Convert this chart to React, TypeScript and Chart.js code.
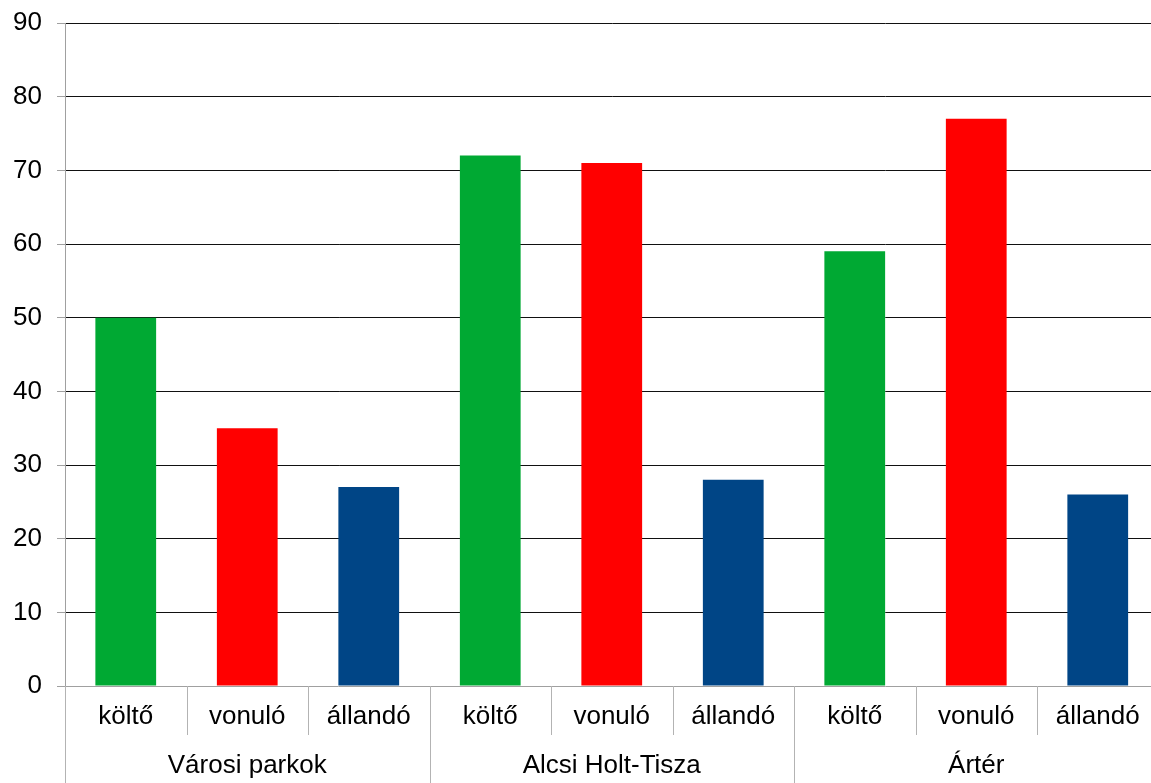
import React, { useEffect, useRef } from "react";
import { Chart, registerables } from "chart.js";

Chart.register(...registerables);

const categories = ["költő", "vonuló", "állandó", "költő", "vonuló", "állandó", "költő", "vonuló", "állandó"];
const groups = ["Városi parkok", "Alcsi Holt-Tisza", "Ártér"];
const values = [50, 35, 27, 72, 71, 28, 59, 77, 26];
const barColors = ["#00a933", "#ff0000", "#004586", "#00a933", "#ff0000", "#004586", "#00a933", "#ff0000", "#004586"];
const yMin = 0;
const yMax = 90;
const yStep = 10;

const FONT = "'Liberation Sans', Arial, sans-serif";

const labelsPlugin = {
  id: "multiLevelLabels",
  afterDraw(chart: any) {
    const ctx = chart.ctx;
    const area = chart.chartArea;
    const x = chart.scales.x;
    const n = categories.length;
    const w = (x.right - x.left) / n;
    const bottom = area.bottom;
    const H = chart.height;
    ctx.save();
    ctx.strokeStyle = "#b3b3b3";
    ctx.lineWidth = 1;
    for (let i = 0; i <= n; i++) {
      const px = Math.round(x.left + i * w) + 0.5;
      const full = i % 3 === 0;
      ctx.beginPath();
      ctx.moveTo(px, bottom);
      ctx.lineTo(px, full ? H : bottom + 49);
      ctx.stroke();
    }
    ctx.fillStyle = "#000";
    ctx.textAlign = "center";
    ctx.textBaseline = "middle";
    ctx.font = `26px ${FONT}`;
    for (let i = 0; i < n; i++) {
      const cx = x.getPixelForValue(i);
      ctx.fillText(categories[i], cx, bottom + 31);
    }
    for (let g = 0; g < groups.length; g++) {
      const cx = x.left + (g * 3 + 1.5) * w;
      ctx.fillText(groups[g], cx, bottom + 80);
    }
    ctx.restore();
  },
};

export default function App() {
  const ref = useRef<HTMLCanvasElement | null>(null);
  useEffect(() => {
    document.body.style.margin = "0";
    const canvas = ref.current!;
    const chart = new Chart(canvas, {
      type: "bar",
      data: {
        labels: categories,
        datasets: [
          {
            data: values,
            backgroundColor: barColors,
            borderWidth: 0,
            barPercentage: 0.5,
            categoryPercentage: 1,
          },
        ],
      },
      options: {
        animation: false,
        responsive: false,
        devicePixelRatio: 1,
        layout: { padding: { left: 0, right: 1.5, top: 23, bottom: 97 } },
        plugins: { legend: { display: false }, tooltip: { enabled: false } },
        scales: {
          x: {
            ticks: { display: false },
            grid: { display: false },
            border: { display: true, color: "#a0a0a0", width: 1 },
            afterFit: (s: any) => {
              s.height = 0;
              s.paddingLeft = 0;
              s.paddingRight = 0;
            },
          },
          y: {
            min: yMin,
            max: yMax,
            ticks: {
              stepSize: yStep,
              color: "#000",
              padding: 15,
              font: { family: FONT, size: 26 },
            },
            grid: {
              color: (c: any) => (c.tick && c.tick.value === 0 ? "rgba(0,0,0,0)" : "#111"),
              tickColor: "#a0a0a0",
              tickLength: 8,
              lineWidth: 1,
            },
            border: { display: true, color: "#a0a0a0", width: 1 },
            afterFit: (s: any) => {
              s.width = 65;
              s.paddingTop = 0;
              s.paddingBottom = 0;
            },
          },
        },
      },
      plugins: [labelsPlugin],
    });
    return () => chart.destroy();
  }, []);
  return (
    <div
      style={{
        position: "fixed",
        left: 0,
        top: 0,
        width: 1151,
        height: 783,
        overflow: "hidden",
        background: "#fff",
      }}
    >
      <canvas ref={ref} width={1160} height={783} style={{ display: "block" }} />
    </div>
  );
}
